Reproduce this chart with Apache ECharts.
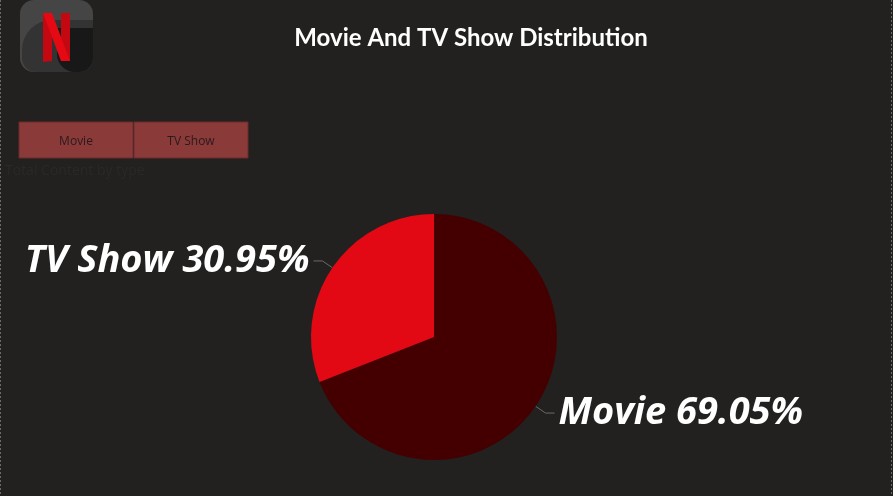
<!DOCTYPE html>
<html>
<head>
<meta charset="utf-8">
<script src="https://cdn.jsdelivr.net/npm/echarts@6/dist/echarts.min.js"></script>
<style>
html,body{margin:0;padding:0;background:#22211f;}
#main{width:893px;height:496px;}
</style>
</head>
<body>
<div id="main"></div>
<script>
const categories = ['Movie', 'TV Show'];
const counts = [5377, 2410];
const sliceColors = ['#440000', '#e30914'];
const buttonLabels = ['Movie', 'TV Show'];
const titleText = 'Movie And TV Show Distribution';
const subtitleText = 'Total Content by type';

const chart = echarts.init(document.getElementById('main'), null, {renderer: 'canvas'});

const buttons = [];
buttonLabels.forEach((t, i) => {
  buttons.push({
    type: 'rect',
    shape: {x: 19 + i * 115, y: 122, width: 114, height: 36},
    style: {fill: '#8b3a3a', stroke: '#6a2b2b', lineWidth: 1}
  });
  buttons.push({
    type: 'text',
    x: 76 + i * 115, y: 142,
    style: {text: t, fill: '#2a1a1a', font: '12px "Open Sans", "Liberation Sans", sans-serif', textAlign: 'center', textVerticalAlign: 'middle'}
  });
});

const option = {
  backgroundColor: '#22211f',
  animation: false,
  title: {
    text: titleText,
    left: 466, top: 21, textAlign: 'center',
    textStyle: {color: '#ffffff', fontSize: 24, fontWeight: 'bold', fontFamily: '"Comic Sans MS", Lato, "DejaVu Sans", sans-serif'}
  },
  graphic: [
    {type: 'line', shape: {x1: 0.5, y1: 0, x2: 0.5, y2: 496}, style: {stroke: '#6a6a6a', lineWidth: 1, lineDash: [2, 2]}},
    {type: 'line', shape: {x1: 891.5, y1: 0, x2: 891.5, y2: 496}, style: {stroke: '#6a6a6a', lineWidth: 1, lineDash: [2, 2]}},
    // logo
    {type: 'rect', shape: {x: 20, y: 0, width: 73, height: 72, r: 14}, style: {fill: '#454545'}},
    {type: 'rect', shape: {x: 22, y: 20, width: 71, height: 52, r: [30, 0, 14, 14]}, style: {fill: '#333333'}},
    {type: 'rect', shape: {x: 57, y: 28, width: 36, height: 44, r: [0, 0, 14, 18]}, style: {fill: '#181818'}},
    {type: 'polygon', shape: {points: [[43, 13], [52, 13], [52, 61], [43, 62]]}, style: {fill: '#c40812'}},
    {type: 'polygon', shape: {points: [[61, 13], [70, 13], [70, 61], [61, 61]]}, style: {fill: '#c40812'}},
    {type: 'polygon', shape: {points: [[43, 13], [52, 13], [70, 61], [61, 61]]}, style: {fill: '#e50914'}},
    ...buttons,
    {type: 'text', x: 5, y: 171, style: {text: subtitleText, fill: '#2a2927', font: '14px "Open Sans", "Liberation Sans", sans-serif', textVerticalAlign: 'middle'}}
  ],
  series: [{
    type: 'pie',
    center: [434, 337],
    radius: 123,
    startAngle: 90,
    clockwise: true,
    percentPrecision: 2,
    data: categories.map((c, i) => ({name: c, value: counts[i], itemStyle: {color: sliceColors[i]}})),
    itemStyle: {borderWidth: 0},
    label: {
      show: true,
      position: 'outside',
      formatter: '{b} {d}%',
      color: '#ffffff',
      fontSize: 38,
      fontWeight: 'bold',
      fontStyle: 'italic',
      fontFamily: '"Open Sans", "DejaVu Sans", sans-serif',
      distanceToLabelLine: 4
    },
    labelLine: {show: true, length: 12, length2: 9, lineStyle: {color: '#6a6a6a', width: 1}},
    emphasis: {disabled: true}
  }]
};
chart.setOption(option);
</script>
</body>
</html>
